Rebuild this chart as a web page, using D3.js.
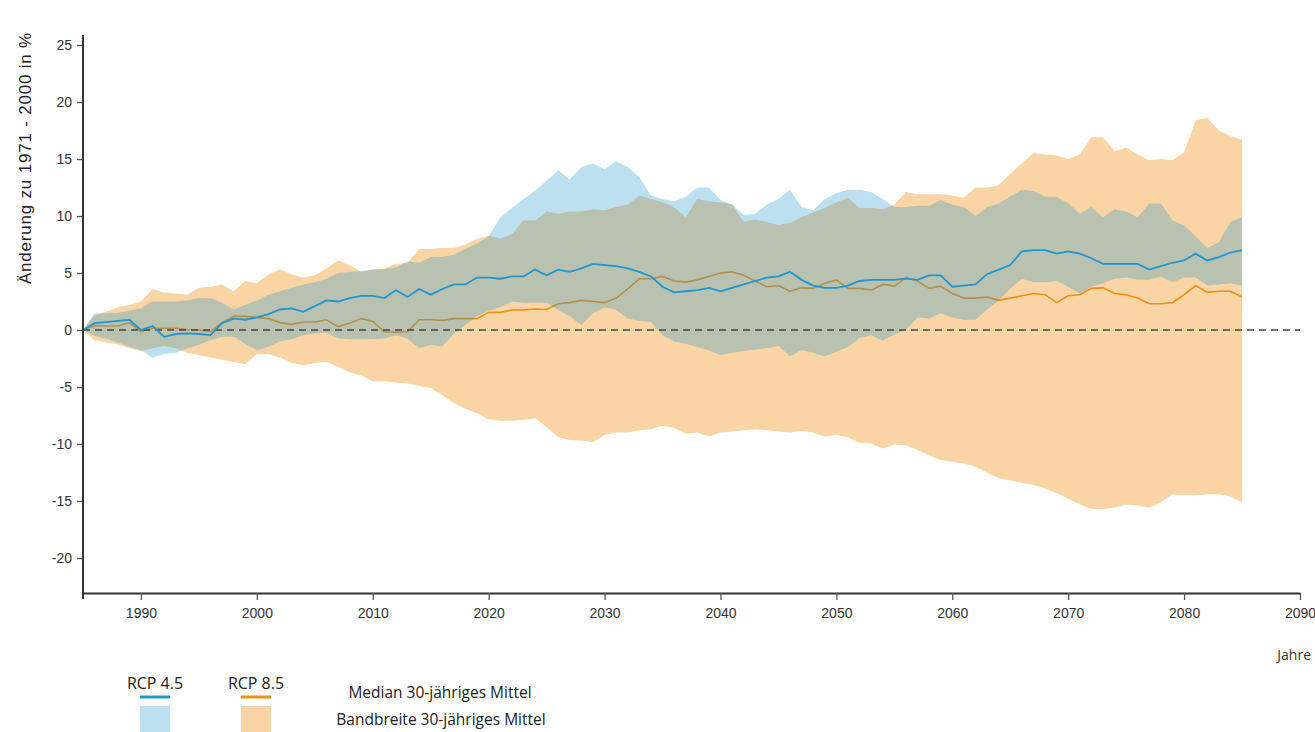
<!DOCTYPE html>
<html>
<head>
<meta charset="utf-8">
<script src="https://cdn.jsdelivr.net/npm/d3@7"></script>
<style>
	body { margin: 0; background: #fff; }
	svg { display: block; }
</style>
</head>
<body>
<script>
// jahre 1985 - 2085, ein wert pro jahr
var years = d3.range(1985, 2086)

var rcp45Median = [
	0, 0.6, 0.7, 0.8, 0.9, 0.0, 0.35, -0.6, -0.35, -0.3,
	-0.35, -0.45, 0.6, 1.0, 0.9, 1.1, 1.4, 1.8, 1.9, 1.6,
	2.1, 2.6, 2.5, 2.8, 3.0, 3.0, 2.8, 3.5, 2.9, 3.6,
	3.1, 3.6, 4.0, 4.0, 4.6, 4.6, 4.5, 4.7, 4.7, 5.3,
	4.8, 5.3, 5.1, 5.4, 5.8, 5.7, 5.6, 5.4, 5.1, 4.7,
	3.8, 3.3, 3.4, 3.5, 3.7, 3.4, 3.7, 4.0, 4.3, 4.6,
	4.7, 5.1, 4.4, 3.9, 3.7, 3.7, 3.9, 4.3, 4.4, 4.4,
	4.4, 4.5, 4.4, 4.8, 4.8, 3.8, 3.9, 4.0, 4.9, 5.3,
	5.7, 6.9, 7.0, 7.0, 6.7, 6.9, 6.7, 6.3, 5.8, 5.8,
	5.8, 5.8, 5.3, 5.6, 5.9, 6.1, 6.7, 6.1, 6.4, 6.8,
	7.0
]
var rcp45Low = [
	0, -0.5, -0.75, -1.1, -1.45, -1.8, -2.4, -2.1, -2.0, -1.6,
	-1.3, -0.9, -0.6, -0.6, -1.2, -1.8, -1.45, -1.0, -0.8, -0.45,
	-0.3, -0.25, -0.75, -0.8, -0.8, -0.8, -0.75, -0.45, -0.75, -1.6,
	-1.3, -1.45, -0.3, 0.45, 1.2, 1.7, 2.0, 2.5, 2.4, 2.4,
	2.4, 1.75, 1.2, 0.45, 1.46, 2.0, 1.75, 1.0, 0.8, 0.7,
	-0.45, -1.0, -1.2, -1.5, -1.8, -2.2, -2.0, -1.85, -1.7, -1.6,
	-1.4, -2.3, -1.75, -2.0, -2.3, -1.9, -1.5, -0.7, -0.45, -0.95,
	-0.4, 0.0, 1.1, 1.0, 1.46, 1.1, 0.9, 0.9, 1.8, 2.6,
	3.65, 4.5, 4.2, 4.2, 4.3, 3.8, 3.2, 3.8, 4.1, 4.5,
	4.6, 4.4, 4.4, 4.7, 4.2, 4.6, 4.6, 3.9, 4.0, 4.1,
	3.9
]
var rcp45High = [
	0, 1.46, 1.46, 1.5, 1.7, 1.9, 2.5, 2.5, 2.5, 2.6,
	2.8, 2.8, 2.4, 1.8, 2.2, 2.6, 3.1, 3.4, 3.7, 4.0,
	4.2, 4.5, 5.0, 5.1, 5.2, 5.3, 5.3, 5.5, 6.0, 5.9,
	6.4, 6.4, 6.6, 7.1, 7.6, 8.2, 9.9, 10.7, 11.5, 12.2,
	13.1, 14.0, 13.2, 14.3, 14.6, 14.1, 14.8, 14.3, 13.4, 11.8,
	11.5, 11.3, 11.7, 12.5, 12.5, 11.4, 11.0, 10.1, 10.2, 11.0,
	11.5, 12.3, 10.8, 10.5, 11.5, 12.0, 12.3, 12.3, 12.1, 11.5,
	10.8, 10.8, 10.9, 10.9, 11.4, 11.0, 10.8, 10.0, 10.8, 11.1,
	11.7, 12.3, 12.2, 11.7, 11.7, 11.1, 10.2, 10.8, 9.9, 10.6,
	10.4, 9.9, 11.1, 11.1, 9.6, 9.2, 8.2, 7.2, 7.7, 9.5,
	9.9
]

var rcp85Median = [
	0, 0.4, 0.35, 0.35, 0.65, -0.15, 0.15, 0.15, 0.15, 0.05,
	0, -0.15, 0.65, 1.2, 1.2, 1.1, 1.0, 0.65, 0.5, 0.7,
	0.7, 0.9, 0.3, 0.6, 1.0, 0.75, -0.15, -0.2, -0.15, 0.9,
	0.9, 0.85, 1.0, 1.0, 1.0, 1.55, 1.55, 1.75, 1.75, 1.85,
	1.8, 2.3, 2.4, 2.6, 2.5, 2.4, 2.8, 3.6, 4.5, 4.5,
	4.7, 4.3, 4.2, 4.4, 4.7, 5.0, 5.1, 4.8, 4.3, 3.8,
	3.9, 3.4, 3.7, 3.65, 4.1, 4.4, 3.65, 3.65, 3.5, 4.0,
	3.85, 4.6, 4.3, 3.65, 3.85, 3.2, 2.8, 2.8, 2.9, 2.6,
	2.8, 3.0, 3.2, 3.1, 2.4, 3.0, 3.1, 3.65, 3.7, 3.2,
	3.1, 2.8, 2.3, 2.3, 2.4, 3.1, 3.9, 3.3, 3.4, 3.4,
	2.9
]
var rcp85Low = [
	0, -0.9, -1.1, -1.25, -1.6, -1.85, -1.6, -1.4, -1.6, -2.0,
	-2.2, -2.4, -2.6, -2.8, -3.0, -2.1, -2.1, -2.4, -2.9, -3.1,
	-2.9, -2.8, -3.2, -3.7, -4.0, -4.5, -4.5, -4.6, -4.7, -4.9,
	-5.1, -5.7, -6.4, -6.9, -7.3, -7.85, -7.95, -7.95, -7.9, -7.75,
	-8.5, -9.4, -9.65, -9.7, -9.85, -9.2, -9.0, -9.0, -8.8, -8.7,
	-8.4, -8.6, -9.1, -9.0, -9.35, -9.0, -8.9, -8.8, -8.7, -8.8,
	-8.9, -9.0, -8.85, -9.0, -9.35, -9.2, -9.4, -9.9, -9.95, -10.4,
	-10.05, -10.1, -10.5, -11.0, -11.4, -11.55, -11.7, -12.0, -12.5, -13.0,
	-13.2, -13.4, -13.6, -13.9, -14.3, -14.8, -15.3, -15.7, -15.7, -15.6,
	-15.3, -15.4, -15.6, -15.1, -14.4, -14.5, -14.5, -14.4, -14.4, -14.6,
	-15.1
]
var rcp85High = [
	0, 1.3, 1.6, 2.0, 2.2, 2.5, 3.6, 3.3, 3.2, 3.1,
	3.7, 3.8, 4.0, 3.4, 4.3, 4.1, 4.9, 5.3, 4.9, 4.6,
	4.8, 5.4, 6.1, 5.7, 5.1, 5.3, 5.4, 5.8, 5.9, 7.1,
	7.1, 7.2, 7.2, 7.5, 8.0, 8.3, 8.0, 8.4, 9.6, 9.6,
	10.4, 10.2, 10.4, 10.4, 10.6, 10.5, 10.8, 11.0, 11.8, 11.5,
	11.2, 10.8, 9.9, 11.5, 11.3, 11.2, 11.0, 9.5, 9.7, 9.5,
	9.2, 9.4, 9.9, 10.3, 10.7, 11.2, 11.6, 10.7, 10.7, 10.6,
	11.0, 12.1, 11.9, 11.9, 11.9, 11.8, 11.6, 12.5, 12.5, 12.7,
	13.7, 14.6, 15.5, 15.4, 15.3, 15.0, 15.4, 16.9, 16.9, 15.7,
	16.0, 15.4, 14.9, 15.0, 14.9, 15.6, 18.4, 18.6, 17.5, 17.0,
	16.7
]

var xTicks = d3.range(1990, 2091, 10)
var yTicks = d3.range(-20, 26, 5)

var blue = "#1f95d1"
var blueBand = "rgba(35,152,205,0.3)"
var orange = "#f08f12"
var orangeBand = "#f9d4a5"

var width = 1315
var height = 732

var canvas = d3.select("body").append("svg")
	.attr("width", width)
	.attr("height", height)

var x = d3.scaleLinear().domain([1985, 2090]).range([83, 1300])
var y = d3.scaleLinear().domain([-23.07, 25.88]).range([593, 35])

function series(low, mid, high) {
	return years.map(function(yr, i) {
		return { year: yr, low: low[i], mid: mid[i], high: high[i] }
	})
}
var s45 = series(rcp45Low, rcp45Median, rcp45High)
var s85 = series(rcp85Low, rcp85Median, rcp85High)

var band = d3.area()
	.x(function(d) { return x(d.year) })
	.y0(function(d) { return y(d.low) })
	.y1(function(d) { return y(d.high) })

var median = d3.line()
	.x(function(d) { return x(d.year) })
	.y(function(d) { return y(d.mid) })

// rcp 8.5 zuerst, rcp 4.5 halbtransparent darueber
canvas.append("path").datum(s85)
	.attr("d", band)
	.attr("fill", orangeBand)

canvas.append("path").datum(s85)
	.attr("d", median)
	.attr("fill", "none")
	.attr("stroke", orange)
	.attr("stroke-width", 1.6)

canvas.append("path").datum(s45)
	.attr("d", band)
	.attr("fill", blueBand)

// nulllinie
canvas.append("line")
	.attr("x1", x(1985)).attr("x2", x(2090))
	.attr("y1", y(0)).attr("y2", y(0))
	.attr("stroke", "#444")
	.attr("stroke-width", 1.5)
	.attr("stroke-dasharray", "7,5")

canvas.append("path").datum(s45)
	.attr("d", median)
	.attr("fill", "none")
	.attr("stroke", blue)
	.attr("stroke-width", 1.8)

// achsen
var xAxis = canvas.append("g")
	.attr("transform", "translate(0," + y(-23.07) + ")")
	.call(d3.axisBottom(x).tickValues(xTicks).tickFormat(function(d) { return String(d) })
		.tickSize(7).tickSizeOuter(0).tickPadding(8))

var yAxis = canvas.append("g")
	.attr("transform", "translate(" + x(1985) + ",0)")
	.call(d3.axisLeft(y).tickValues(yTicks).tickFormat(function(d) { return String(d) })
		.tickSize(6).tickSizeOuter(0).tickPadding(5))

yAxis.select(".domain").remove()
canvas.append("line")
	.attr("x1", x(1985)).attr("x2", x(1985))
	.attr("y1", 35).attr("y2", 599)
	.attr("stroke", "#333")
	.attr("stroke-width", 2)

xAxis.select(".domain").attr("stroke", "#333").attr("stroke-width", 2)
canvas.selectAll(".tick line").attr("stroke", "#555").attr("stroke-width", 1.3)
canvas.selectAll(".tick text")
	.attr("fill", "#333")
	.style("font-family", "'Liberation Sans', Arial, sans-serif")
	.style("font-size", "14px")

canvas.append("text")
	.attr("transform", "rotate(-90)")
	.attr("x", -32)
	.attr("y", 31)
	.attr("text-anchor", "end")
	.style("font-family", "'Liberation Sans', Arial, sans-serif")
	.style("font-size", "17px")
	.style("letter-spacing", "0.8px")
	.attr("fill", "#222")
	.text("Änderung zu 1971 - 2000 in %")

canvas.append("text")
	.attr("x", 1311)
	.attr("y", 660)
	.attr("text-anchor", "end")
	.style("font-family", "'Open Sans', sans-serif")
	.style("font-size", "14px")
	.attr("fill", "#333")
	.text("Jahre")

// legende
var legend = [
	{ label: "RCP 4.5", x: 140, line: blue, fill: blueBand },
	{ label: "RCP 8.5", x: 241, line: orange, fill: orangeBand }
]

var lg = canvas.selectAll(".legend")
	.data(legend)
	.enter()
	.append("g")
	.attr("class", "legend")

lg.append("text")
	.attr("x", function(d) { return d.x + 15 })
	.attr("y", 689)
	.attr("text-anchor", "middle")
	.style("font-family", "'Open Sans', sans-serif")
	.style("font-size", "16px")
	.attr("fill", "#222")
	.text(function(d) { return d.label })

lg.append("line")
	.attr("x1", function(d) { return d.x })
	.attr("x2", function(d) { return d.x + 30 })
	.attr("y1", 697).attr("y2", 697)
	.attr("stroke", function(d) { return d.line })
	.attr("stroke-width", 3)

lg.append("rect")
	.attr("x", function(d) { return d.x })
	.attr("y", 706)
	.attr("width", 30)
	.attr("height", 30)
	.attr("fill", function(d) { return d.fill })

canvas.append("text")
	.attr("x", 440).attr("y", 698)
	.attr("text-anchor", "middle")
	.style("font-family", "'Open Sans', sans-serif")
	.style("font-size", "15.5px")
	.attr("fill", "#222")
	.text("Median 30-jähriges Mittel")

canvas.append("text")
	.attr("x", 441).attr("y", 725)
	.attr("text-anchor", "middle")
	.style("font-family", "'Open Sans', sans-serif")
	.style("font-size", "15.5px")
	.attr("fill", "#222")
	.text("Bandbreite 30-jähriges Mittel")
</script>
</body>
</html>
